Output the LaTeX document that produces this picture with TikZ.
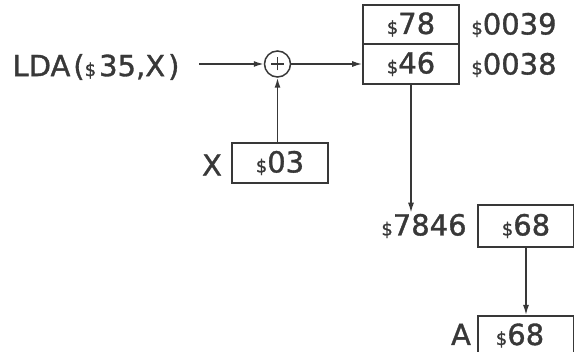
\documentclass[tikz,border=0pt]{standalone}
\usepackage{fontspec}
\setmainfont{DejaVu Sans}[FakeBold=1.2]
\usetikzlibrary{arrows.meta}
\definecolor{ink}{HTML}{383838}
\newcommand{\dol}{{\fontsize{18}{18}\selectfont\$}}
\begin{document}
\begin{tikzpicture}[x=1pt,y=1pt,
  every node/.style={text=ink,font=\fontsize{29}{29}\selectfont},
  cell/.style={draw=ink,line width=1.6pt,minimum width=96pt,minimum height=39.5pt,inner sep=0pt},
  lbl/.style={inner sep=1pt},
  arr/.style={draw=ink,line width=1.5pt,-{Latex[length=10pt,width=6pt]}},
  addcirc/.style={circle,draw=ink,line width=1.5pt,minimum size=26pt,inner sep=0pt,
    path picture={\draw[ink,line width=1.5pt] ([xshift=-6.5pt]path picture bounding box.center) -- ([xshift=6.5pt]path picture bounding box.center)
      ([yshift=-6.5pt]path picture bounding box.center) -- ([yshift=6.5pt]path picture bounding box.center);}}]
\useasboundingbox (0,0) rectangle (574,-352);
\fill[white] (0,0) rectangle (574,-352);
% memory cells
\node[cell] (c78) at (411,-24.5) {\dol78\hspace{4pt}};
\node[cell,minimum height=40pt] (c46) at (411,-64) {\dol46\hspace{4pt}};
\node[lbl] (a39) at (514,-25) {\dol0039};
\node[lbl] (a38) at (514,-65) {\dol0038};
% instruction
\node[lbl] (lda) at (96,-67) {LDA\hspace{3pt}(\dol\hspace{3pt}35,X\hspace{3pt})};
\coordinate (ldaend) at (199,-64);
\node[addcirc] (plus) at (277.5,-64) {};
% X register
\node[cell,minimum height=40pt] (xreg) at (280,-163) {\dol03\hspace{6pt}};
\node[lbl] (xl) at (212,-165) {X};
% effective address
\node[cell,minimum height=42pt] (mem) at (526,-226) {\dol68\hspace{6pt}};
\node[lbl] (addr) at (424,-226) {\dol7846};
% accumulator
\node[cell,minimum height=42pt,anchor=north] (acc) at (526,-315) {};
\node[lbl,anchor=base,text depth=0pt] (accv) at (520,-345) {\dol68};
\node[lbl,anchor=base,text depth=0pt] (al) at (461,-345) {A};
% connectors
\draw[arr] (ldaend) -- (plus.west);
\draw[arr] (plus.east) -- (c46.west);
\draw[arr] (xreg.north -| plus.south) -- (plus.south);
\draw[arr] (c46.south) -- (c46.south |- addr.north);
\draw[arr] (mem.south) -- (acc.north);
\end{tikzpicture}
\end{document}
